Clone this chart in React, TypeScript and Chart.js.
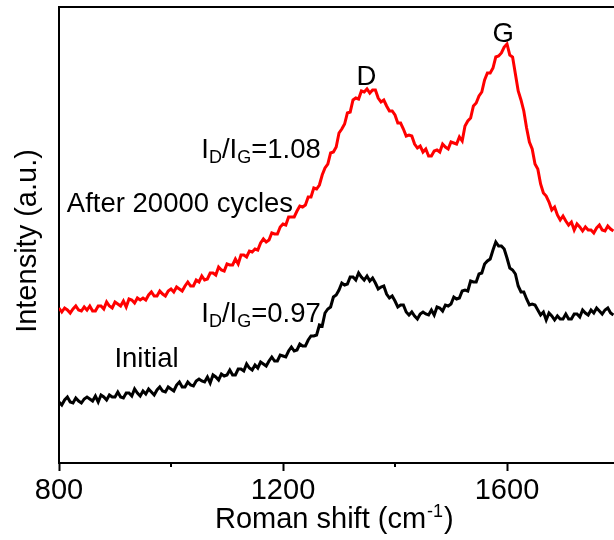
import React, { useEffect, useRef } from "react";
import { Chart, registerables } from "chart.js";

Chart.register(...registerables);

// Raman shift (cm^-1)
const ramanShift = [
  800, 805, 810, 815, 820, 825, 830, 835, 840, 845,
  850, 855, 860, 865, 870, 875, 880, 885, 890, 895,
  900, 905, 910, 915, 920, 925, 930, 935, 940, 945,
  950, 955, 960, 965, 970, 975, 980, 985, 990, 995,
  1000, 1005, 1010, 1015, 1020, 1025, 1030, 1035, 1040, 1045,
  1050, 1055, 1060, 1065, 1070, 1075, 1080, 1085, 1090, 1095,
  1100, 1105, 1110, 1115, 1120, 1125, 1130, 1135, 1140, 1145,
  1150, 1155, 1160, 1165, 1170, 1175, 1180, 1185, 1190, 1195,
  1200, 1205, 1210, 1215, 1220, 1225, 1230, 1235, 1240, 1245,
  1250, 1255, 1260, 1265, 1270, 1275, 1280, 1285, 1290, 1295,
  1300, 1305, 1310, 1315, 1320, 1325, 1330, 1335, 1340, 1345,
  1350, 1355, 1360, 1365, 1370, 1375, 1380, 1385, 1390, 1395,
  1400, 1405, 1410, 1415, 1420, 1425, 1430, 1435, 1440, 1445,
  1450, 1455, 1460, 1465, 1470, 1475, 1480, 1485, 1490, 1495,
  1500, 1505, 1510, 1515, 1520, 1525, 1530, 1535, 1540, 1545,
  1550, 1555, 1560, 1565, 1570, 1575, 1580, 1585, 1590, 1595,
  1600, 1605, 1610, 1615, 1620, 1625, 1630, 1635, 1640, 1645,
  1650, 1655, 1660, 1665, 1670, 1675, 1680, 1685, 1690, 1695,
  1700, 1705, 1710, 1715, 1720, 1725, 1730, 1735, 1740, 1745,
  1750, 1755, 1760, 1765, 1770, 1775, 1780, 1785, 1790,
];

// Intensity (a.u.) after 20000 cycles (red, offset)
const afterCycles = [
  154, 150, 154, 152, 149, 153, 156, 152, 151, 155,
  152, 156, 151, 151, 156, 156, 153, 160, 156, 154,
  160, 158, 156, 161, 155, 163, 162, 159, 164, 162,
  164, 162, 167, 170, 166, 166, 171, 168, 166, 171,
  173, 170, 175, 173, 171, 176, 180, 176, 176, 182,
  180, 186, 182, 183, 189, 189, 187, 195, 192, 191,
  198, 197, 197, 203, 198, 207, 207, 205, 211, 210,
  213, 212, 219, 223, 220, 222, 229, 228, 228, 235,
  238, 237, 245, 245, 245, 251, 256, 255, 257, 265,
  265, 274, 273, 277, 287, 294, 298, 309, 310, 315,
  329, 333, 338, 349, 350, 362, 364, 363, 371, 370,
  373, 369, 372, 372, 364, 360, 362, 356, 351, 351,
  347, 339, 339, 333, 326, 327, 326, 318, 314, 316,
  310, 313, 306, 306, 311, 312, 310, 318, 315, 313,
  320, 319, 318, 325, 321, 336, 341, 344, 356, 359,
  366, 370, 382, 389, 389, 394, 405, 406, 409, 415,
  418, 407, 405, 388, 371, 362, 351, 334, 320, 313,
  298, 293, 278, 269, 266, 260, 252, 255, 247, 242,
  246, 241, 237, 240, 232, 238, 235, 231, 235, 232,
  232, 229, 234, 237, 232, 231, 236, 233, 231,
];

// Intensity (a.u.) initial (black)
const initialState = [
  60, 57, 62, 65, 60, 59, 64, 61, 59, 63,
  65, 63, 61, 66, 60, 67, 65, 62, 67, 65,
  65, 70, 65, 64, 69, 69, 66, 73, 69, 66,
  71, 68, 73, 70, 67, 72, 75, 71, 70, 75,
  73, 71, 77, 80, 75, 75, 80, 77, 76, 81,
  83, 81, 80, 85, 79, 87, 85, 82, 88, 86,
  87, 92, 87, 87, 93, 93, 91, 98, 94, 92,
  97, 94, 100, 98, 96, 101, 105, 101, 101, 107,
  106, 105, 111, 115, 111, 112, 118, 116, 116, 122,
  126, 126, 127, 137, 136, 149, 153, 155, 165, 167,
  172, 179, 177, 178, 185, 185, 182, 189, 185, 182,
  186, 181, 184, 179, 173, 175, 176, 168, 164, 166,
  161, 155, 157, 157, 150, 147, 150, 146, 143, 148,
  150, 148, 147, 152, 147, 155, 154, 151, 157, 156,
  158, 165, 163, 164, 171, 172, 171, 181, 180, 180,
  188, 189, 198, 201, 203, 212, 220, 216, 216, 213,
  204, 194, 192, 188, 176, 170, 170, 163, 157, 158,
  157, 152, 147, 150, 142, 149, 146, 142, 146, 143,
  143, 148, 143, 143, 148, 148, 145, 152, 149, 147,
  152, 149, 154, 151, 148, 152, 154, 149, 147,
];

const majorTicks = [800, 1200, 1600];
const xTitle = "Roman shift (cm";
const xTitleSup = "-1";
const yTitle = "Intensity (a.u.)";

type Part = { t: string; sub?: boolean };
type Note = { parts: Part[]; x: number; y: number; align: "left" | "center" };

const notes: Note[] = [
  { parts: [{ t: "After 20000 cycles" }], x: 814, y: 250, align: "left" },
  { parts: [{ t: "I" }, { t: "D", sub: true }, { t: "/I" }, { t: "G", sub: true }, { t: "=1.08" }], x: 1054, y: 304, align: "left" },
  { parts: [{ t: "I" }, { t: "D", sub: true }, { t: "/I" }, { t: "G", sub: true }, { t: "=0.97" }], x: 1054, y: 140, align: "left" },
  { parts: [{ t: "Initial" }], x: 899, y: 95, align: "left" },
  { parts: [{ t: "D" }], x: 1349, y: 377, align: "center" },
  { parts: [{ t: "G" }], x: 1593, y: 420, align: "center" },
];

const FONT = '"Liberation Sans", Arial, sans-serif';

function drawRich(ctx: CanvasRenderingContext2D, parts: Part[], x: number, y: number, align: string, size: number) {
  const subSize = Math.round(size * 0.66);
  let total = 0;
  for (const p of parts) {
    ctx.font = `${p.sub ? subSize : size}px ${FONT}`;
    total += ctx.measureText(p.t).width;
  }
  let cx = align === "center" ? x - total / 2 : x;
  ctx.textAlign = "left";
  ctx.textBaseline = "alphabetic";
  for (const p of parts) {
    ctx.font = `${p.sub ? subSize : size}px ${FONT}`;
    ctx.fillText(p.t, cx, p.sub ? y + 5 : y);
    cx += ctx.measureText(p.t).width;
  }
}

const decorPlugin = {
  id: "decor",
  afterDraw(chart: any) {
    const ctx: CanvasRenderingContext2D = chart.ctx;
    const xs = chart.scales.x;
    const ys = chart.scales.y;
    const area = chart.chartArea;
    ctx.save();
    ctx.fillStyle = "#000";
    ctx.strokeStyle = "#000";
    // minor ticks (shorter than the major ones)
    ctx.lineWidth = 2;
    for (const t of xs.ticks) {
      if (majorTicks.includes(t.value)) continue;
      const px = Math.round(xs.getPixelForValue(t.value));
      ctx.beginPath();
      ctx.moveTo(px, area.bottom);
      ctx.lineTo(px, area.bottom + 4);
      ctx.stroke();
    }
    // annotations
    for (const n of notes) {
      drawRich(ctx, n.parts, xs.getPixelForValue(n.x), ys.getPixelForValue(n.y), n.align, 27.5);
    }
    // x title with superscript
    ctx.font = `29px ${FONT}`;
    ctx.textAlign = "left";
    ctx.textBaseline = "alphabetic";
    const tx = 215;
    const ty = 528;
    ctx.fillText(xTitle, tx, ty);
    const w = ctx.measureText(xTitle).width;
    ctx.font = `18px ${FONT}`;
    ctx.fillText(xTitleSup, tx + w + 1, ty - 11);
    const w2 = ctx.measureText(xTitleSup).width;
    ctx.font = `29px ${FONT}`;
    ctx.fillText(")", tx + w + w2 + 2, ty);
    // y title
    ctx.translate(36, 241);
    ctx.rotate(-Math.PI / 2);
    ctx.textAlign = "center";
    ctx.fillText(yTitle, 0, 0);
    ctx.restore();
  },
};

export default function App() {
  const ref = useRef<HTMLCanvasElement | null>(null);
  useEffect(() => {
    if (!ref.current) return;
    const chart = new Chart(ref.current, {
      type: "line",
      data: {
        datasets: [
          {
            label: "Initial",
            data: ramanShift.map((x, i) => ({ x, y: initialState[i] })),
            borderColor: "#000000",
            borderWidth: 3,
            pointRadius: 0,
            tension: 0,
          },
          {
            label: "After 20000 cycles",
            data: ramanShift.map((x, i) => ({ x, y: afterCycles[i] })),
            borderColor: "#ff0000",
            borderWidth: 3,
            pointRadius: 0,
            tension: 0,
          },
        ],
      },
      options: {
        responsive: false,
        animation: false,
        devicePixelRatio: 1,
        layout: { padding: { left: 0, right: 0, top: 7, bottom: 0 } },
        plugins: { legend: { display: false }, tooltip: { enabled: false } },
        scales: {
          x: {
            type: "linear",
            position: "bottom",
            min: 800,
            max: 1800,
            afterFit: (s: any) => { s.height = 77; },
            ticks: {
              stepSize: 200,
              autoSkip: false,
              maxRotation: 0,
              minRotation: 0,
              padding: 3,
              color: "#000",
              font: { family: FONT, size: 29 },
              callback: (v: any) => (majorTicks.includes(Number(v)) ? String(v) : ""),
            },
            grid: {
              display: true,
              drawOnChartArea: false,
              drawTicks: true,
              tickLength: 8,
              tickWidth: 2,
              color: "#000",
              tickColor: (c: any) => (c.tick && majorTicks.includes(c.tick.value) ? "#000" : "rgba(0,0,0,0)"),
            },
            border: { display: true, color: "#000", width: 2 },
          },
          xTop: {
            type: "linear",
            position: "top",
            min: 800,
            max: 1800,
            afterFit: (s: any) => { s.height = 0; },
            ticks: { display: false },
            grid: { display: false, drawTicks: false },
            border: { display: true, color: "#000", width: 2 },
          },
          y: {
            type: "linear",
            position: "left",
            min: -1,
            max: 455,
            afterFit: (s: any) => { s.width = 59; },
            ticks: { display: false },
            grid: { display: false, drawTicks: false },
            border: { display: true, color: "#000", width: 2 },
          },
        },
      },
      plugins: [decorPlugin],
    } as any);
    return () => chart.destroy();
  }, []);
  return (
    <div style={{ position: "absolute", left: 0, top: 0, width: 614, height: 540, overflow: "hidden", background: "#fff" }}>
      <canvas ref={ref} width={622} height={540} style={{ display: "block" }} />
    </div>
  );
}
